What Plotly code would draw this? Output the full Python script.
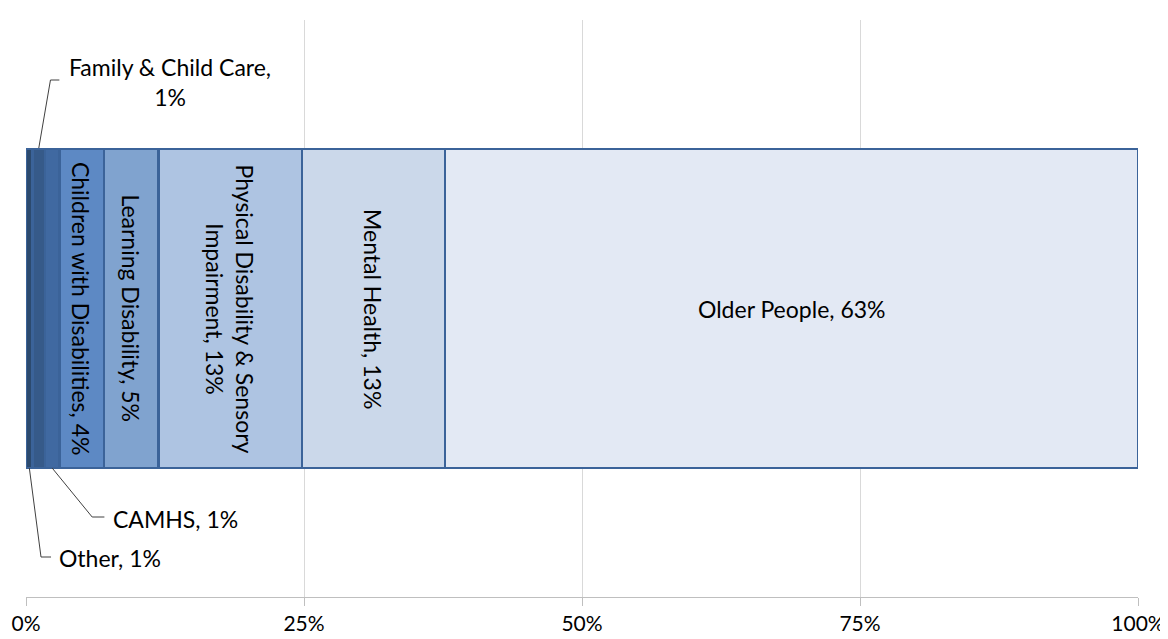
import plotly.graph_objects as go

categories = ["Other", "Family & Child Care", "CAMHS", "Children with Disabilities",
              "Learning Disability", "Physical Disability & Sensory Impairment",
              "Mental Health", "Older People"]
values = [0.6, 1.1, 1.3, 4.0, 4.9, 12.9, 12.9, 62.3]
pct_labels = ["1%", "1%", "1%", "4%", "5%", "13%", "13%", "63%"]
colors = ["#2c4a6e", "#365a89", "#4069a1", "#5d89c4", "#80a3cf", "#aec4e2", "#cbd8ea", "#e3e9f4"]
tick_vals = [0, 25, 50, 75, 100]
tick_text = ["0%", "25%", "50%", "75%", "100%"]

FONT = "Lato"
FS = 23
fig = go.Figure()
for c, v, col in zip(categories, values, colors):
    fig.add_trace(go.Bar(x=[v], y=[0], orientation="h", name=c,
                         marker=dict(color=col, line=dict(color="#3b6399", width=2.5)),
                         width=0.553, hoverinfo="skip"))

# cumulative midpoints
mids = []
acc = 0
for v in values:
    mids.append(acc + v / 2)
    acc += v

annotations = []
inside = {3: "Children with Disabilities, " + pct_labels[3],
          4: "Learning Disability, " + pct_labels[4],
          5: "Physical Disability & Sensory<br>Impairment, " + pct_labels[5],
          6: "Mental Health, " + pct_labels[6]}
for i, t in inside.items():
    annotations.append(dict(x=mids[i], y=0, xref="x", yref="y", text=t, textangle=90,
                            showarrow=False, font=dict(family=FONT, size=FS, color="#000000")))
annotations.append(dict(x=mids[7], y=0, xref="x", yref="y", text="Older People, " + pct_labels[7],
                        showarrow=False, font=dict(family=FONT, size=FS, color="#000000")))

# page has an 8px body margin; plot area spans page px y 20..597
def py(px):
    return (597 - px) / 577.0

shapes = []
# Family & Child Care (above)
xf = mids[1]
shapes.append(dict(type="path", xref="x", yref="paper",
                   path=f"M {xf},{py(148)} L {xf + 1.05},{py(80)} L {xf + 1.85},{py(80)}",
                   line=dict(color="#404040", width=1)))
annotations.append(dict(x=xf + 11.8, y=py(82), xref="x", yref="paper", yanchor="middle",
                        text="Family & Child Care,<br>" + pct_labels[1], showarrow=False, align="center",
                        font=dict(family=FONT, size=FS, color="#000000")))
# CAMHS (below)
xc = mids[2]
shapes.append(dict(type="path", xref="x", yref="paper",
                   path=f"M {xc},{py(468)} L {xc + 3.6},{py(517)} L {xc + 4.7},{py(517)}",
                   line=dict(color="#404040", width=1)))
annotations.append(dict(x=xc + 5.3, y=py(519), xref="x", yref="paper", xanchor="left", yanchor="middle",
                        text="CAMHS, " + pct_labels[2], showarrow=False,
                        font=dict(family=FONT, size=FS, color="#000000")))
# Other (below)
xo = mids[0]
shapes.append(dict(type="path", xref="x", yref="paper",
                   path=f"M {xo},{py(468)} L {xo + 1.05},{py(557)} L {xo + 1.95},{py(557)}",
                   line=dict(color="#404040", width=1)))
annotations.append(dict(x=xo + 2.5, y=py(558), xref="x", yref="paper", xanchor="left", yanchor="middle",
                        text="Other, " + pct_labels[0], showarrow=False,
                        font=dict(family=FONT, size=FS, color="#000000")))

fig.update_layout(
    width=1160, height=631,
    barmode="stack", showlegend=False,
    plot_bgcolor="white", paper_bgcolor="white",
    margin=dict(l=18, r=30, t=12, b=42, autoexpand=False),
    font=dict(family=FONT, size=FS, color="#000000"),
    xaxis=dict(range=[0, 100], tickvals=tick_vals, ticktext=tick_text,
               showgrid=True, gridcolor="#d9d9d9", gridwidth=1,
               showline=True, linecolor="#bfbfbf", linewidth=1,
               ticks="outside", ticklen=8, tickcolor="#bfbfbf",
               zeroline=False, fixedrange=True, automargin=False,
               tickfont=dict(family=FONT, size=21, color="#000000")),
    yaxis=dict(range=[-0.5, 0.5], visible=False, fixedrange=True, automargin=False),
    annotations=annotations, shapes=shapes,
)

fig.write_html("out.html")
